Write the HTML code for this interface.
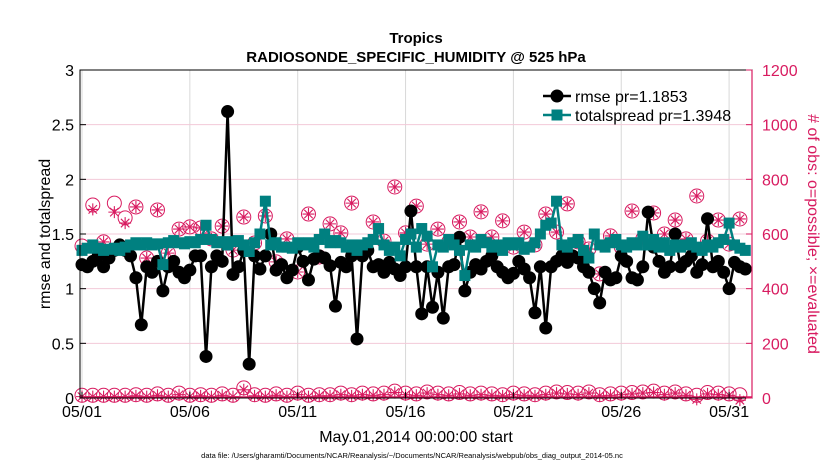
<!DOCTYPE html>
<html><head><meta charset="utf-8"><style>
body{margin:0;background:#fff;}
svg{display:block;font-family:"Liberation Sans",sans-serif;}
</style></head><body>
<svg id="chart" width="830" height="470"></svg>
<script>
const rmse=[1.22,1.2,1.25,1.3,1.2,1.28,1.35,1.4,1.35,1.3,1.1,0.67,1.2,1.15,1.25,0.98,1.2,1.25,1.15,1.1,1.17,1.3,1.3,0.38,1.2,1.3,1.25,2.62,1.13,1.2,1.35,0.31,1.3,1.18,1.3,1.5,1.17,1.22,1.1,1.17,1.38,1.25,1.08,1.27,1.3,1.28,1.21,0.84,1.24,1.2,1.3,0.54,1.3,1.35,1.2,1.22,1.15,1.24,1.18,1.12,1.2,1.71,1.2,0.77,1.2,0.83,1.15,0.73,1.2,1.22,1.47,0.98,1.15,1.22,1.18,1.25,1.3,1.2,1.15,1.1,1.14,1.25,1.18,1.1,0.78,1.2,0.64,1.2,1.25,1.3,1.24,1.3,1.28,1.2,1.15,1.0,0.87,1.15,1.08,1.1,1.3,1.25,1.1,1.08,1.2,1.7,1.38,1.25,1.15,1.2,1.5,1.2,1.25,1.3,1.15,1.22,1.64,1.2,1.25,1.15,1.0,1.24,1.2,1.18];
const spread=[1.35,1.37,1.4,1.37,1.35,1.36,1.37,1.35,1.38,1.4,1.42,1.4,1.42,1.4,1.41,1.22,1.42,1.44,1.42,1.41,1.43,1.42,1.45,1.58,1.45,1.42,1.43,1.4,1.43,1.44,1.4,1.34,1.42,1.5,1.8,1.4,1.42,1.38,1.38,1.37,1.42,1.4,1.42,1.38,1.45,1.5,1.42,1.44,1.42,1.38,1.4,1.35,1.4,1.42,1.45,1.55,1.4,1.35,1.38,1.3,1.45,1.5,1.38,1.55,1.48,1.2,1.4,1.38,1.45,1.4,1.35,1.12,1.4,1.38,1.45,1.42,1.38,1.4,1.35,1.42,1.4,1.42,1.36,1.38,1.42,1.5,1.58,1.6,1.8,1.4,1.38,1.42,1.45,1.35,1.28,1.5,1.4,1.38,1.42,1.45,1.4,1.38,1.42,1.4,1.48,1.4,1.45,1.38,1.42,1.35,1.4,1.38,1.4,1.42,1.38,1.35,1.4,1.38,1.42,1.45,1.6,1.4,1.37,1.35];
const obsPossible=[556,706,571,713,659,699,512,688,530,618,626,622,582,629,541,662,567,666,498,582,461,673,516,637,604,713,541,644,574,772,604,702,563,618,571,644,589,681,589,648,552,607,560,673,607,710,571,545,454,593,552,684,582,677,600,651,582,739,574,651,563,655];
const obsEvaluated=[545,690,571,680,640,699,512,688,530,618,626,622,582,629,541,662,567,666,498,582,461,673,516,637,604,713,541,644,574,772,604,702,563,618,571,644,589,681,589,648,552,607,560,673,607,710,571,545,454,593,552,684,582,677,600,651,582,739,574,651,563,655];
const lowPossible=[10,10,10,10,10,12,10,15,10,18,10,12,10,15,10,37,12,10,15,10,18,10,12,12,18,12,18,15,18,25,18,15,22,18,15,20,15,18,15,12,18,15,12,18,22,20,18,22,12,15,18,20,22,25,18,22,15,10,20,18,15,12];
const lowEvaluated=[5,5,5,5,5,8,5,10,5,12,5,8,5,10,5,30,8,5,10,5,12,5,8,8,12,8,12,10,12,20,12,10,18,12,10,15,10,12,10,8,12,10,8,12,18,15,12,18,8,10,12,15,18,20,12,18,10,-5,15,12,10,-8];
const xTickLabels=["05/01","05/06","05/11","05/16","05/21","05/26","05/31"];
const xTickDays=[0,5,10,15,20,25,30];
const yTicks=[0,0.5,1,1.5,2,2.5,3];
const yTickLabels=["0","0.5","1","1.5","2","2.5","3"];
const yRTicks=[0,200,400,600,800,1000,1200];

const L=80,R=752,T=70,B=398,RED="#d81b60",TEAL="#008080";
const xs=d=>82+d*21.57;
const ys=v=>B-(v/3)*(B-T);
const yr=v=>B-(v/1200)*(B-T);
const svg=document.getElementById('chart');
const NS="http://www.w3.org/2000/svg";
function mk(tag,attrs,parent){const e=document.createElementNS(NS,tag);for(const k in attrs)e.setAttribute(k,attrs[k]);(parent||svg).appendChild(e);return e;}
function txt(s,attrs,parent){const e=mk('text',attrs,parent);e.textContent=s;return e;}

const grid=mk('g',{});


xTickDays.forEach(d=>mk('line',{x1:xs(d),x2:xs(d),y1:T,y2:B,stroke:"#d8d8d8","stroke-width":1},grid));
yTicks.forEach(v=>mk('line',{x1:L,x2:R,y1:ys(v),y2:ys(v),stroke:"#f3c9d8","stroke-width":1},grid));

// obs markers
const obsG=mk('g',{});


function circ(d,v){const c=mk('circle',{cx:xs(d),cy:yr(v),r:7,fill:"none",stroke:RED,"stroke-width":1},obsG);}
function star(d,v){const cx=xs(d),cy=yr(v);let p="";for(let k=0;k<4;k++){const a=k*Math.PI/4;p+=`M${cx-6*Math.cos(a)},${cy-6*Math.sin(a)}L${cx+6*Math.cos(a)},${cy+6*Math.sin(a)}`;}mk('path',{d:p,stroke:RED,"stroke-width":1.1,fill:"none"},obsG);}
mk('line',{x1:L,x2:R,y1:B-1,y2:B-1,stroke:RED,"stroke-width":1.5},obsG);
obsPossible.forEach((v,i)=>circ(i/2,v));
obsEvaluated.forEach((v,i)=>star(i/2,v));
lowPossible.forEach((v,i)=>circ(i/2,v));
lowEvaluated.forEach((v,i)=>star(i/2,Math.max(v,-8)));

function series(arr,color,name,marker){
  const g=mk('g',{});
  
  
  mk('polyline',{points:arr.map((v,i)=>xs(i/4)+","+ys(v)).join(" "),fill:"none",stroke:color,"stroke-width":2.5},g);
  arr.forEach((v,i)=>{
    if(marker==='c')mk('circle',{cx:xs(i/4),cy:ys(v),r:6.5,fill:color},g);
    else mk('rect',{x:xs(i/4)-5.5,y:ys(v)-5.5,width:11,height:11,fill:color},g);
  });
}
series(rmse,"#000","rmse-series",'c');
series(spread,TEAL,"totalspread-series",'s');

// axes
mk('rect',{x:L,y:T,width:R-L,height:B-T,fill:"none",stroke:"#000","stroke-width":1});
mk('line',{x1:R,x2:R,y1:T,y2:B,stroke:RED,"stroke-width":1.2});
const ax=mk('g',{"font-size":16});


yTicks.forEach((v,i)=>{mk('line',{x1:L,x2:L+6,y1:ys(v),y2:ys(v),stroke:"#000"},ax);txt(yTickLabels[i],{x:L-6,y:ys(v)+6,"text-anchor":"end"},ax);});
yRTicks.forEach(v=>{mk('line',{x1:R-6,x2:R,y1:yr(v),y2:yr(v),stroke:RED},ax);txt(String(v),{x:R+10,y:yr(v)+6,fill:RED},ax);});
xTickDays.forEach((d,i)=>{mk('line',{x1:xs(d),x2:xs(d),y1:B,y2:B-6,stroke:"#000"},ax);txt(xTickLabels[i],{x:xs(d),y:417,"text-anchor":"middle"},ax);});

const t1=txt("Tropics",{x:416,y:43,"text-anchor":"middle","font-size":15,"font-weight":"bold"});


const t2=txt("RADIOSONDE_SPECIFIC_HUMIDITY @ 525 hPa",{x:416,y:62,"text-anchor":"middle","font-size":15,"font-weight":"bold"});


const xl=txt("May.01,2014 00:00:00 start",{x:416,y:442,"text-anchor":"middle","font-size":16});


const yl=txt("rmse and totalspread",{x:0,y:0,"text-anchor":"middle","font-size":16,transform:"translate(50,234) rotate(-90)"});


const yl2=txt("# of obs: o=possible; \u00d7=evaluated",{x:0,y:0,"text-anchor":"middle","font-size":16,fill:RED,transform:"translate(808,234) rotate(90)"});


const fn=txt("data file: /Users/gharamti/Documents/NCAR/Reanalysis/~/Documents/NCAR/Reanalysis/webpub/obs_diag_output_2014-05.nc",{x:412,y:458,"text-anchor":"middle","font-size":7.5});



// legend
const lg=mk('g',{"font-size":16});


mk('line',{x1:543,x2:571,y1:96,y2:96,stroke:"#000","stroke-width":2.5},lg);
mk('circle',{cx:557,cy:96,r:6.5,fill:"#000"},lg);
txt("rmse pr=1.1853",{x:575,y:102},lg);
mk('line',{x1:543,x2:571,y1:115,y2:115,stroke:TEAL,"stroke-width":2.5},lg);
mk('rect',{x:551.5,y:109.5,width:11,height:11,fill:TEAL},lg);
txt("totalspread pr=1.3948",{x:575,y:121},lg);
</script>
</body></html>
